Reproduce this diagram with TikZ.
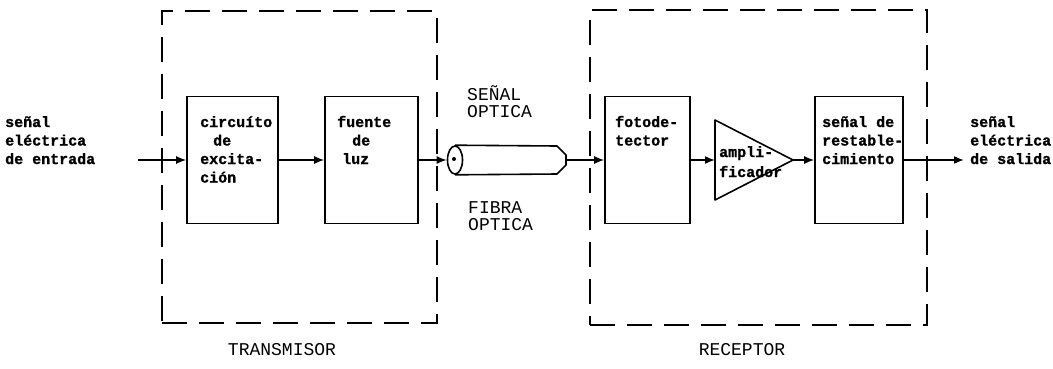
\documentclass[tikz,border=0pt]{standalone}
\usepackage{fontspec}
\setmonofont{Liberation Mono}[BoldFeatures={FakeBold=1.2}]
\usetikzlibrary{arrows.meta,shapes.geometric}
\begin{document}
\begin{tikzpicture}[x=1pt,y=-1pt,
  blk/.style={draw, line width=1.6pt, inner sep=0pt, minimum height=127pt},
  dbox/.style={draw, line width=2.2pt, dash pattern=on 25pt off 12pt, inner sep=0pt},
  lbl/.style={font=\ttfamily\bfseries\fontsize{15}{18.5}\selectfont, align=left, anchor=base west, inner sep=0pt},
  caplbl/.style={font=\ttfamily\fontsize{18}{17.5}\selectfont, align=left, anchor=base west, inner sep=0pt},
  conn/.style={line width=1.6pt, -{Latex[length=10pt,width=8pt]}},
  outline/.style={line width=1.6pt, line join=round}]
\useasboundingbox (0,0) rectangle (1053,368);

% dashed enclosures
\node[dbox, minimum width=275pt, minimum height=312pt] (tx) at (299.5,167) {};
\node[dbox, minimum width=337pt, minimum height=315pt] (rx) at (758.5,167.5) {};
\node[caplbl, anchor=base] (txl) at (282,355) {TRANSMISOR};
\node[caplbl, anchor=base] (rxl) at (742,355) {RECEPTOR};

% blocks
\node[blk, minimum width=91pt] (circ) at (232.5,160) {};
\node[blk, minimum width=93pt] (fuen) at (371.5,160) {};
\node[blk, minimum width=85pt] (foto) at (647.5,160) {};
\node[blk, minimum width=88pt] (rest) at (859,160) {};

% (anchor base = baseline of the last line)
\node[lbl] (circt) at (200,182.5) {circuíto\\\hspace*{13pt}de\\excita-\\ción};
\node[lbl] (fuent) at (337,164) {fuente\\\hspace*{15pt}de\\\hspace*{5pt}luz};
\node[lbl] (fotot) at (615,145.5) {fotode-\\tector};
\node[lbl] (restt) at (822,164) {señal de\\restable-\\cimiento};

% amplifier
\coordinate (ampL) at (715,160);
\coordinate (ampR) at (793,160);
\draw[outline] (715,120) -- (ampR) -- (715,200) -- cycle;
\node[lbl, font=\ttfamily\bfseries\fontsize{15}{20}\selectfont] (ampt) at (719,177) {ampli-\\ficador};

% optical fibre
\node[draw, ellipse, line width=1.6pt, minimum width=15pt, minimum height=28pt, inner sep=0pt] (fib) at (455,160) {};
\fill (454,159) circle (2pt);
\coordinate (fibR) at (566,160);
\draw[outline] (fib.north) -- (557,146) -- (566,155) -- (566,165) -- (557,174) -- (fib.south);
\node[caplbl] (senl) at (467,117.5) {SEÑAL\\OPTICA};
\node[caplbl] (fibl) at (468,230.5) {FIBRA\\OPTICA};

% outer labels
\node[lbl] (inl) at (5,164) {señal\\eléctrica\\de entrada};
\node[lbl] (outl) at (970,164) {señal\\eléctrica\\de salida};
\coordinate (inS) at (138,160);
\coordinate (outE) at (964,160);

% connectors
\draw[conn] (inS) -- (circ.west);
\draw[conn] (circ.east) -- (fuen.west);
\draw[conn] (fuen.east) -- (fib.west);
\draw[conn] (fibR) -- (foto.west);
\draw[conn] (foto.east) -- (ampL);
\draw[conn] (ampR) -- (rest.west);
\draw[conn] (rest.east) -- (outE);
\end{tikzpicture}
\end{document}
